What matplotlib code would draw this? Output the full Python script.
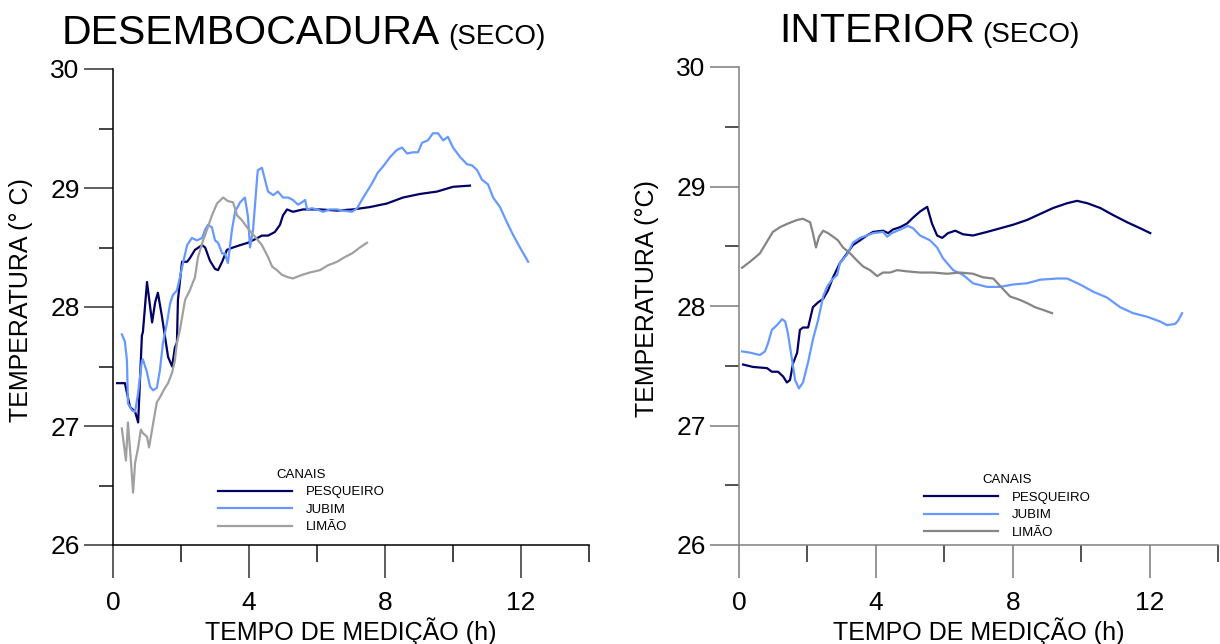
import matplotlib
matplotlib.use('Agg')
import matplotlib.pyplot as plt
from matplotlib.ticker import MultipleLocator

plt.rcParams['font.family'] = ['Liberation Sans', 'DejaVu Sans']

# --- DESEMBOCADURA (seco) ---
des_pesq_h = [0.12, 0.35, 0.5, 0.65, 0.74, 0.85, 0.88, 1.0, 1.15, 1.24, 1.32, 1.44, 1.53, 1.62,
              1.74, 1.82, 1.88, 1.91, 2.03, 2.18, 2.26, 2.41, 2.62, 2.71, 2.85, 3.0, 3.09, 3.21,
              3.35, 3.53, 3.74, 3.97, 4.18, 4.38, 4.56, 4.76, 4.91, 5.0, 5.12, 5.29, 5.59, 6.09,
              6.59, 7.06, 7.56, 8.06, 8.53, 9.03, 9.53, 10.0, 10.5]
des_pesq_T = [27.36, 27.36, 27.16, 27.12, 27.03, 27.76, 27.79, 28.21, 27.87, 28.04, 28.12, 27.92,
              27.75, 27.58, 27.50, 27.66, 27.70, 28.06, 28.38, 28.38, 28.41, 28.48, 28.52, 28.50,
              28.39, 28.32, 28.31, 28.38, 28.48, 28.50, 28.52, 28.54, 28.57, 28.60, 28.60, 28.63,
              28.69, 28.77, 28.82, 28.80, 28.82, 28.82, 28.81, 28.82, 28.84, 28.87, 28.92, 28.95,
              28.97, 29.01, 29.02]

des_jub_h = [0.26, 0.35, 0.41, 0.44, 0.56, 0.65, 0.74, 0.85, 0.88, 1.0, 1.09, 1.18, 1.29, 1.38,
             1.47, 1.59, 1.68, 1.76, 1.88, 1.97, 2.06, 2.18, 2.32, 2.47, 2.62, 2.71, 2.79, 2.91,
             3.0, 3.09, 3.21, 3.29, 3.38, 3.5, 3.59, 3.74, 3.88, 3.97, 4.03, 4.12, 4.24, 4.26,
             4.38, 4.47, 4.56, 4.71, 4.85, 5.0, 5.15, 5.29, 5.44, 5.56, 5.65, 5.71, 5.85, 6.0,
             6.18, 6.38, 6.59, 6.76, 7.03, 7.18, 7.32, 7.47, 7.62, 7.79, 7.94, 8.15, 8.35, 8.5,
             8.65, 8.82, 8.97, 9.09, 9.26, 9.41, 9.56, 9.71, 9.85, 10.0, 10.21, 10.41, 10.56,
             10.71, 10.85, 11.03, 11.18, 11.38, 11.59, 11.76, 11.97, 12.21]
des_jub_T = [27.77, 27.71, 27.55, 27.19, 27.13, 27.12, 27.28, 27.55, 27.56, 27.45, 27.33, 27.30,
             27.32, 27.47, 27.70, 27.87, 28.03, 28.10, 28.14, 28.25, 28.37, 28.52, 28.58, 28.56,
             28.58, 28.65, 28.69, 28.67, 28.56, 28.54, 28.45, 28.45, 28.37, 28.65, 28.80, 28.88,
             28.92, 28.76, 28.50, 28.65, 29.09, 29.15, 29.17, 29.07, 28.97, 28.94, 28.97, 28.92,
             28.92, 28.90, 28.86, 28.88, 28.90, 28.82, 28.83, 28.82, 28.80, 28.82, 28.82, 28.81,
             28.80, 28.83, 28.90, 28.97, 29.04, 29.13, 29.18, 29.26, 29.32, 29.34, 29.29, 29.30,
             29.30, 29.38, 29.40, 29.46, 29.46, 29.40, 29.43, 29.34, 29.26, 29.20, 29.19, 29.15,
             29.07, 29.03, 28.92, 28.84, 28.71, 28.61, 28.50, 28.38]

des_lim_h = [0.26, 0.38, 0.44, 0.53, 0.59, 0.65, 0.74, 0.82, 0.88, 1.0, 1.06, 1.15, 1.24, 1.29,
             1.38, 1.47, 1.53, 1.62, 1.74, 1.82, 1.88, 1.97, 2.12, 2.26, 2.41, 2.5, 2.65, 2.79,
             2.91, 3.06, 3.24, 3.38, 3.53, 3.65, 3.79, 3.97, 4.18, 4.38, 4.56, 4.68, 4.82, 4.97,
             5.15, 5.29, 5.56, 5.79, 6.09, 6.32, 6.59, 6.82, 7.03, 7.26, 7.47]
des_lim_T = [26.98, 26.71, 27.03, 26.69, 26.44, 26.69, 26.82, 26.97, 26.94, 26.91, 26.82, 26.97,
             27.12, 27.20, 27.24, 27.29, 27.32, 27.36, 27.45, 27.55, 27.70, 27.81, 28.06, 28.14,
             28.25, 28.42, 28.56, 28.67, 28.77, 28.87, 28.92, 28.89, 28.88, 28.77, 28.73, 28.66,
             28.59, 28.52, 28.42, 28.34, 28.31, 28.27, 28.25, 28.24, 28.27, 28.29, 28.31, 28.35,
             28.38, 28.42, 28.45, 28.50, 28.54]

# --- INTERIOR (seco) ---
int_pesq_h = [0.12, 0.41, 0.82, 0.96, 1.14, 1.29, 1.40, 1.49, 1.58, 1.70, 1.78, 1.87, 2.02, 2.16,
              2.31, 2.46, 2.60, 2.75, 2.95, 3.16, 3.33, 3.54, 3.74, 3.92, 4.21, 4.36, 4.50, 4.71,
              4.91, 5.09, 5.29, 5.50, 5.64, 5.79, 5.94, 6.11, 6.32, 6.55, 6.84, 7.25, 7.63, 8.01,
              8.42, 8.80, 9.18, 9.59, 9.88, 10.18, 10.56, 10.94, 11.35, 11.73, 12.02]
int_pesq_T = [27.51, 27.49, 27.48, 27.45, 27.45, 27.41, 27.36, 27.38, 27.52, 27.61, 27.80, 27.82,
              27.82, 27.99, 28.03, 28.06, 28.13, 28.24, 28.36, 28.44, 28.51, 28.55, 28.59, 28.62,
              28.63, 28.61, 28.64, 28.66, 28.69, 28.74, 28.79, 28.83, 28.69, 28.59, 28.57, 28.61,
              28.63, 28.60, 28.59, 28.62, 28.65, 28.68, 28.72, 28.77, 28.82, 28.86, 28.88, 28.86,
              28.82, 28.76, 28.70, 28.65, 28.61]

int_jub_h = [0.09, 0.32, 0.61, 0.76, 0.85, 0.96, 1.11, 1.26, 1.35, 1.43, 1.55, 1.64, 1.75, 1.87,
             2.02, 2.16, 2.31, 2.46, 2.57, 2.72, 2.87, 2.95, 3.16, 3.33, 3.54, 3.74, 3.92, 4.21,
             4.33, 4.47, 4.71, 4.94, 5.09, 5.29, 5.58, 5.79, 5.96, 6.26, 6.55, 6.84, 7.25, 7.63,
             8.01, 8.42, 8.80, 9.30, 9.59, 9.97, 10.35, 10.76, 11.14, 11.52, 11.93, 12.31, 12.51,
             12.75, 12.84, 12.95]
int_jub_T = [27.62, 27.61, 27.59, 27.62, 27.69, 27.80, 27.84, 27.89, 27.87, 27.77, 27.55, 27.38,
             27.31, 27.36, 27.53, 27.72, 27.88, 28.08, 28.16, 28.22, 28.26, 28.36, 28.43, 28.53,
             28.57, 28.59, 28.61, 28.62, 28.58, 28.61, 28.64, 28.67, 28.65, 28.59, 28.55, 28.49,
             28.40, 28.30, 28.26, 28.19, 28.16, 28.16, 28.18, 28.19, 28.22, 28.23, 28.23, 28.18,
             28.12, 28.07, 27.99, 27.94, 27.91, 27.87, 27.84, 27.85, 27.88, 27.94]

int_lim_h = [0.09, 0.32, 0.61, 0.82, 0.99, 1.20, 1.43, 1.70, 1.87, 2.08, 2.16, 2.25, 2.34, 2.46,
             2.60, 2.75, 2.89, 3.04, 3.25, 3.45, 3.63, 3.83, 4.04, 4.21, 4.42, 4.62, 4.91, 5.29,
             5.67, 6.08, 6.46, 6.84, 7.13, 7.43, 7.69, 7.92, 8.22, 8.45, 8.65, 8.86, 9.15]
int_lim_T = [28.32, 28.37, 28.44, 28.54, 28.62, 28.66, 28.69, 28.72, 28.73, 28.70, 28.61, 28.49,
             28.58, 28.63, 28.61, 28.58, 28.55, 28.49, 28.44, 28.38, 28.33, 28.30, 28.25, 28.28,
             28.28, 28.30, 28.29, 28.28, 28.28, 28.27, 28.28, 28.27, 28.24, 28.23, 28.15, 28.08,
             28.05, 28.02, 27.99, 27.97, 27.94]

canais = ['PESQUEIRO', 'JUBIM', 'LIMÃO']
navy = '#000066'
azul = '#6699ff'

W, H = 1220, 644
fig = plt.figure(figsize=(W / 100, H / 100), dpi=100)

ax1 = fig.add_axes([113 / W, 1 - 545 / H, 476 / W, 476 / H])
ax2 = fig.add_axes([739 / W, 1 - 545 / H, 479 / W, 478 / H])

lw = 1.6
ax1.plot(des_pesq_h, des_pesq_T, c=navy, lw=lw, label=canais[0])
ax1.plot(des_jub_h, des_jub_T, c=azul, lw=lw, label=canais[1])
ax1.plot(des_lim_h, des_lim_T, c='#a0a0a0', lw=lw, label=canais[2])

ax2.plot(int_pesq_h, int_pesq_T, c=navy, lw=lw, label=canais[0])
ax2.plot(int_jub_h, int_jub_T, c=azul, lw=lw, label=canais[1])
ax2.plot(int_lim_h, int_lim_T, c='#858585', lw=lw, label=canais[2])

# (axes, spine colour, major tick colour, minor tick colour, ylabel)
estilos = [(ax1, '#000000', '#333333', '#111111', 'TEMPERATURA (° C)'),
           (ax2, '#808080', '#7a7a7a', '#222222', 'TEMPERATURA (°C)')]
for ax, col, cmaj, cmin, ylab in estilos:
    ax.set_xlim(0, 14)
    ax.set_ylim(26, 30)
    ax.spines['top'].set_visible(False)
    ax.spines['right'].set_visible(False)
    for s in ['left', 'bottom']:
        ax.spines[s].set_color(col)
        ax.spines[s].set_linewidth(1.1)
    ax.xaxis.set_major_locator(MultipleLocator(4))
    ax.xaxis.set_minor_locator(MultipleLocator(2))
    ax.yaxis.set_major_locator(MultipleLocator(1))
    ax.yaxis.set_minor_locator(MultipleLocator(0.5))
    ax.tick_params(axis='x', which='major', length=24, width=1.1, color=cmaj, pad=9, labelsize=19)
    ax.tick_params(axis='x', which='minor', length=12, width=1.1, color=cmin)
    ax.tick_params(axis='y', which='major', length=21, width=1.1, color=cmaj, pad=3, labelsize=19)
    ax.tick_params(axis='y', which='minor', length=10, width=1.1, color=cmin)
    ax.set_xlabel('TEMPO DE MEDIÇÃO (h)', fontsize=18)
    ax.set_ylabel(ylab, fontsize=18)
    ax.xaxis.set_label_coords(0.5, -0.152)
    ax.yaxis.set_label_coords(-0.168, 0.515)

leg_kw = dict(title='CANAIS', loc='upper left', frameon=False, fontsize=9.5, title_fontsize=9.5,
              handlelength=5.6, handletextpad=1.1, labelspacing=0.4, borderpad=0, borderaxespad=0)
ax1.legend(bbox_to_anchor=(0.22, 0.16), **leg_kw)
ax2.legend(bbox_to_anchor=(0.386, 0.148), **leg_kw)

# titles
fig.text(440 / W, 1 - 44 / H, 'DESEMBOCADURA', ha='right', va='baseline', fontsize=29.5)
fig.text(448 / W, 1 - 44 / H, '(SECO)', ha='left', va='baseline', fontsize=20)
fig.text(975 / W, 1 - 42 / H, 'INTERIOR', ha='right', va='baseline', fontsize=29.5)
fig.text(982 / W, 1 - 42 / H, '(SECO)', ha='left', va='baseline', fontsize=20)

plt.savefig('out.png', dpi=100)
